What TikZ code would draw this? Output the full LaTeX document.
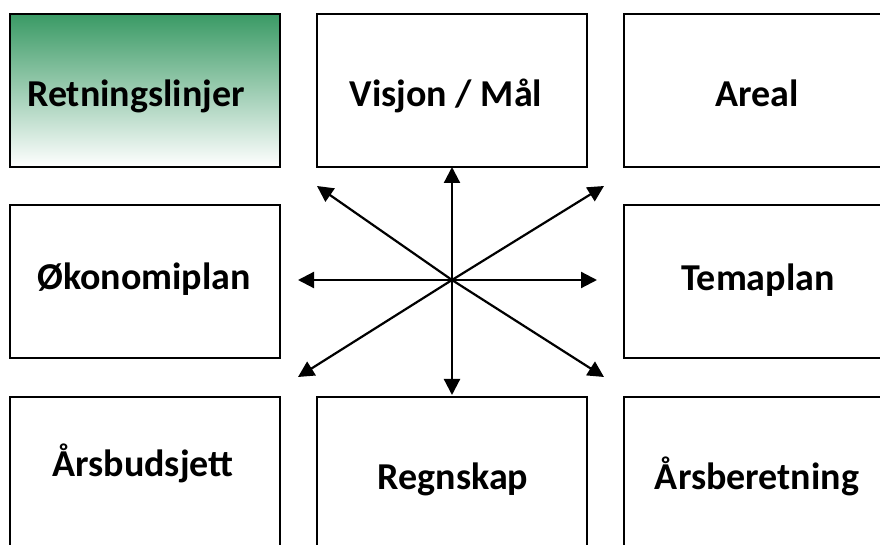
\documentclass[tikz,border=0pt]{standalone}
\usepackage{fontspec}
\setmainfont{Carlito}
\usepackage{xcolor}
\usepackage{tikz}
\usetikzlibrary{arrows.meta,positioning,calc}

\definecolor{planGreen}{RGB}{58,154,101}

\begin{document}
\begin{tikzpicture}[x=0.5pt,y=-0.5pt,
    box/.style={draw, line width=1pt, anchor=north west, inner sep=0pt,
        minimum width=135pt, minimum height=76.5pt},
    lbl/.style={font=\fontsize{19}{22}\selectfont\bfseries, anchor=base},
    link/.style={-{Triangle[length=8pt,width=8pt]}, line width=1.1pt}]

\useasboundingbox (0,0) rectangle (880,545);
\clip (0,0) rectangle (880,545);

% Top row
\node[box, top color=planGreen, bottom color=white] (retn) at (9,13) {};
\node[box] (visjon) at (316,13) {};
\node[box] (areal) at (623,13) {};

% Middle row
\node[box] (okplan) at (9,204) {};
\node[box] (tema) at (623,204) {};

% Bottom row (runs past the edge)
\node[box, minimum height=80pt] (budsjett) at (9,396) {};
\node[box, minimum height=80pt] (regnskap) at (316,396) {};
\node[box, minimum height=80pt] (beretning) at (623,396) {};

% Labels
\node[lbl] (t-retn) at (136,107) {Retningslinjer};
\node[lbl] (t-visjon) at (446,107) {Visjon / Mål};
\node[lbl] (t-areal) at (757,107) {Areal};
\node[lbl] (t-okplan) at (144,290) {Økonomiplan};
\node[lbl] (t-tema) at (758,291) {Temaplan};
\node[lbl] (t-budsjett) at (143,477) {Årsbudsjett};
\node[lbl] (t-regnskap) at (453,490) {Regnskap};
\node[lbl] (t-beretning) at (757,490) {Årsberetning};

% Star of arrows
\coordinate (hub) at (452,280);
\coordinate (n) at (452,167);
\coordinate (s) at (452,395);
\coordinate (w) at (298,280);
\coordinate (e) at (597,280);
\coordinate (nw) at (317,186);
\coordinate (ne) at (604,186);
\coordinate (sw) at (298,377);
\coordinate (se) at (604,377);
\foreach \tip in {n,s,w,e,nw,ne,sw,se} {
    \draw[link] (hub) -- (\tip);
}

\end{tikzpicture}
\end{document}
